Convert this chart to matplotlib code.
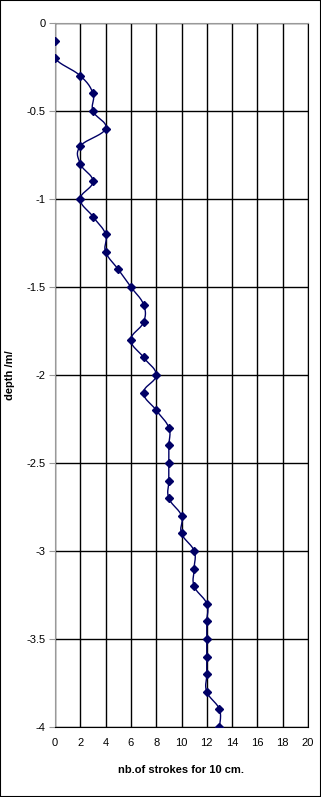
import matplotlib.pyplot as plt
import numpy as np

depth = [-0.1, -0.2, -0.3, -0.4, -0.5, -0.6, -0.7, -0.8, -0.9, -1.0,
         -1.1, -1.2, -1.3, -1.4, -1.5, -1.6, -1.7, -1.8, -1.9, -2.0,
         -2.1, -2.2, -2.3, -2.4, -2.5, -2.6, -2.7, -2.8, -2.9, -3.0,
         -3.1, -3.2, -3.3, -3.4, -3.5, -3.6, -3.7, -3.8, -3.9, -4.0]
strokes = [0, 0, 2, 3, 3, 4, 2, 2, 3, 2,
           3, 4, 4, 5, 6, 7, 7, 6, 7, 8,
           7, 8, 9, 9, 9, 9, 9, 10, 10, 11,
           11, 11, 12, 12, 12, 12, 12, 12, 13, 13]
xticks = np.arange(0, 21, 2)
yticks = np.arange(0, -4.01, -0.5)

plt.rcParams['font.family'] = ['Liberation Sans', 'DejaVu Sans']
navy = '#000066'

fig = plt.figure(figsize=(3.21, 7.97), dpi=100)
ax = fig.add_axes([55 / 321, 70 / 797, 253 / 321, 704 / 797])

# Excel-like smoothed line: bezier through points, in screen-ish units
sx, sy = 253 / 20, 704 / 4
P = np.column_stack([np.array(strokes) * sx, np.array(depth) * sy])
curve = []
n = len(P)
for i in range(n - 1):
    p0 = P[max(i - 1, 0)]
    p1 = P[i]
    p2 = P[i + 1]
    p3 = P[min(i + 2, n - 1)]
    c1 = p1 + (p2 - p0) / 5
    c2 = p2 - (p3 - p1) / 5
    t = np.linspace(0, 1, 20)[:, None]
    seg = ((1 - t) ** 3) * p1 + 3 * ((1 - t) ** 2) * t * c1 + 3 * (1 - t) * t ** 2 * c2 + t ** 3 * p2
    curve.append(seg)
curve = np.vstack(curve)
ax.plot(curve[:, 0] / sx, curve[:, 1] / sy, color=navy, lw=1.0, zorder=3)
ax.plot(strokes, depth, linestyle='none', marker='D', markersize=4.5,
        color=navy, zorder=4)

ax.set_xlim(0, 20)
ax.set_ylim(-4, 0)
ax.set_xticks(xticks)
ax.set_yticks(yticks)
ax.set_yticklabels(['0', '-0.5', '-1', '-1.5', '-2', '-2.5', '-3', '-3.5', '-4'])
ax.grid(True, color='black', lw=1)
ax.set_axisbelow(True)
ax.tick_params(axis='x', length=0, labelsize=8, pad=8)
ax.tick_params(axis='y', length=4, color='#999999', labelsize=8, pad=3)
for s in ['left', 'top']:
    ax.spines[s].set_color('#999999')
for s in ['right', 'bottom']:
    ax.spines[s].set_color('black')

ax.set_xlabel('nb.of strokes for 10 cm.', fontsize=8, fontweight='bold', labelpad=12)
ax.set_ylabel('depth /m/', fontsize=8, fontweight='bold', labelpad=8)

fig.patches.append(plt.Rectangle((0, 0), 1, 1, transform=fig.transFigure,
                                 fill=False, edgecolor='black', lw=1.5))

fig.savefig('out.png', dpi=100)
